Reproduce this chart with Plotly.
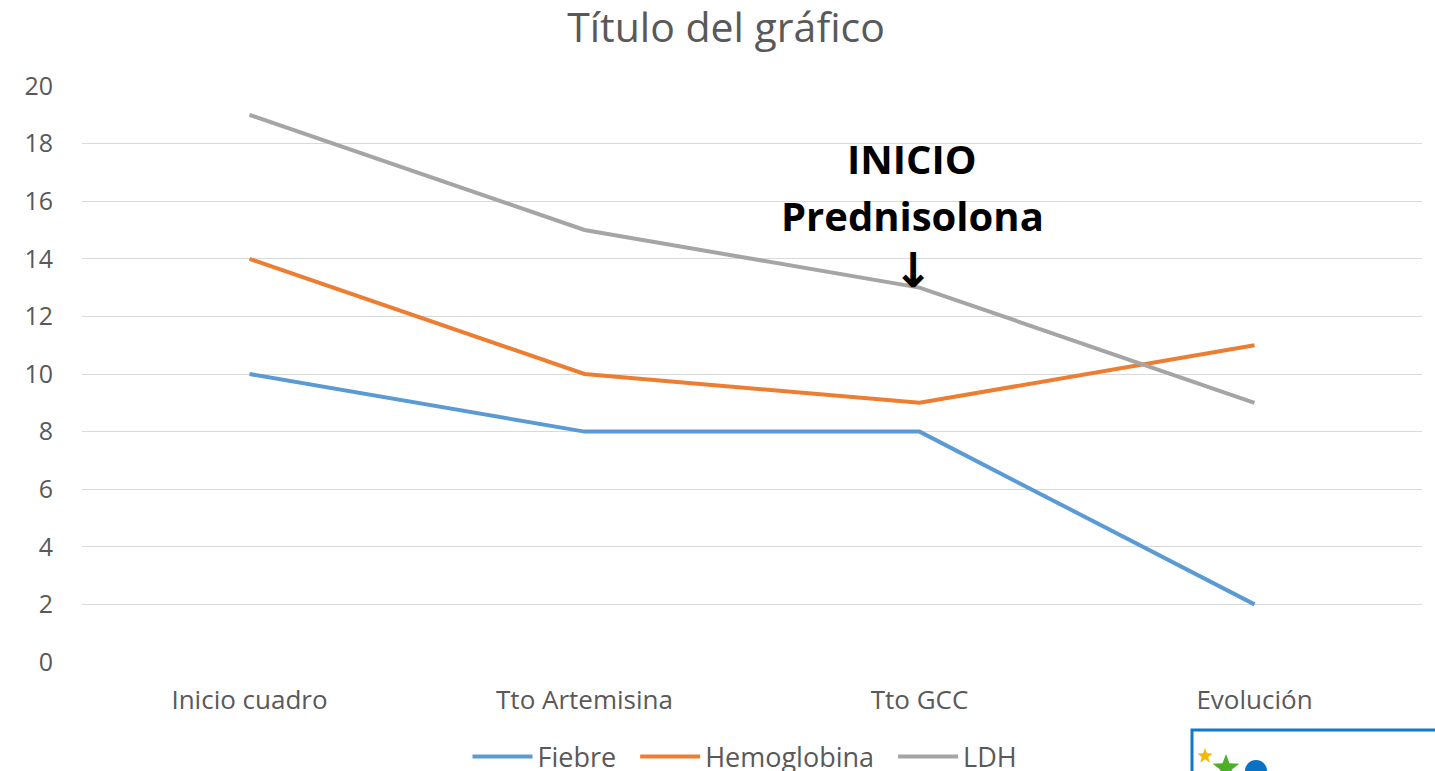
import math
import plotly.graph_objects as go

categories = ["Inicio cuadro", "Tto Artemisina", "Tto GCC", "Evolución"]
fiebre = [10, 8, 8, 2]
hemoglobina = [14, 10, 9, 11]
ldh = [19, 15, 13, 9]
y_ticks = [0, 2, 4, 6, 8, 10, 12, 14, 16, 18, 20]

series = [("Fiebre", fiebre, "#5B9BD5"),
          ("Hemoglobina", hemoglobina, "#ED7D31"),
          ("LDH", ldh, "#A5A5A5")]

W, H = 1435, 771
ML, MR, MT, MB = 82, 13, 86, 109
PW, PH = W - ML - MR, H - MT - MB


def px(x):
    return (x - ML) / PW


def py(y):
    return (H - MB - y) / PH


fig = go.Figure()
for name, vals, color in series:
    fig.add_trace(go.Scatter(x=categories, y=vals, name=name + "\u00a0\u00a0", mode="lines",
                             line=dict(color=color, width=4)))

font_family = "Open Sans, Noto Sans, sans-serif"
fig.update_layout(
    width=W, height=H,
    margin=dict(l=ML, r=MR, t=MT, b=MB, autoexpand=False),
    paper_bgcolor="white", plot_bgcolor="white",
    title=dict(text="Título del gráfico", x=726 / W, xanchor="center",
               y=1 - 28 / H, yanchor="middle",
               font=dict(family=font_family, size=41, color="#595959")),
    showlegend=True,
    legend=dict(orientation="h", x=0.5, xanchor="center", yref="container",
                y=(H - 757) / H, yanchor="middle",
                font=dict(family=font_family, size=27, color="#595959"),
                itemwidth=60, tracegroupgap=0, bgcolor="rgba(0,0,0,0)"),
    xaxis=dict(range=[-0.5, 3.5], showgrid=False, zeroline=False, showline=False,
               ticks="", automargin=False, ticklabelstandoff=20,
               tickfont=dict(family=font_family, size=26, color="#595959")),
    yaxis=dict(range=[0, 20], tickvals=y_ticks, showgrid=True, gridcolor="#D9D9D9",
               gridwidth=1, zeroline=False, showline=False, ticks="", automargin=False,
               tickfont=dict(family=font_family, size=25, color="#595959"),
               ticklabelstandoff=28),
)

fig.add_annotation(x=px(912), y=py(158), xref="paper", yref="paper",
                   xanchor="center", yanchor="middle",
                   text="<b>INICIO</b>", showarrow=False,
                   font=dict(family=font_family, size=40, color="black"))
fig.add_annotation(x=px(912), y=py(215), xref="paper", yref="paper",
                   xanchor="center", yanchor="middle",
                   text="<b>Prednisolona</b>", showarrow=False,
                   font=dict(family=font_family, size=40, color="black"))
fig.add_annotation(x=px(913), y=py(270), xref="paper", yref="paper",
                   xanchor="center", yanchor="middle",
                   text="<b>↓</b>", showarrow=False,
                   font=dict(family="DejaVu Sans, sans-serif", size=48, color="black"))

# logo frame fragment in bottom-right corner
fig.add_shape(type="rect", xref="paper", yref="paper",
              x0=px(1192), x1=px(1445), y0=py(790), y1=py(730),
              line=dict(color="#1478C8", width=3), fillcolor="white")


def star_path(cx, cy, r):
    pts = []
    for i in range(10):
        a = -math.pi / 2 + i * math.pi / 5
        rr = r if i % 2 == 0 else r * 0.42
        pts.append((px(cx + rr * math.cos(a)), py(cy + rr * math.sin(a))))
    return "M " + " L ".join(f"{x:.5f},{y:.5f}" for x, y in pts) + " Z"


fig.add_shape(type="path", xref="paper", yref="paper", path=star_path(1205, 756, 8),
              fillcolor="#F5B800", line=dict(width=0))
fig.add_shape(type="path", xref="paper", yref="paper", path=star_path(1226, 768, 14),
              fillcolor="#4CAF2A", line=dict(width=0))
fig.add_shape(type="circle", xref="paper", yref="paper",
              x0=px(1245), x1=px(1267), y0=py(782), y1=py(760),
              fillcolor="#0A72C4", line=dict(width=0))

fig.write_html("out.html", config={"displayModeBar": False},
               post_script="document.body.style.margin='0px';")
